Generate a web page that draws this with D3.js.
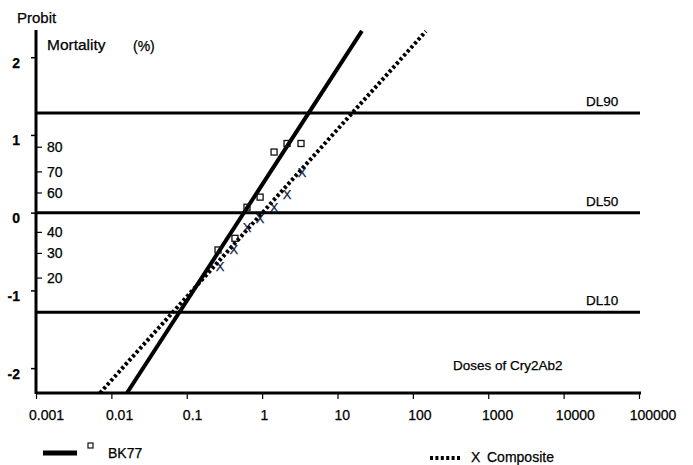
<!DOCTYPE html>
<html><head><meta charset="utf-8">
<script src="https://cdn.jsdelivr.net/npm/d3@7"></script>
<style>body{margin:0;background:#fff}svg{display:block}text{font-family:"Liberation Sans",Arial,sans-serif;fill:#000;stroke:#000;stroke-width:0.25px}</style>
</head><body><svg id="c" width="693" height="465"></svg>
<script>
// ---- data ----
const xTicks = [0.001, 0.01, 0.1, 1, 10, 100, 1000, 10000, 100000];
const xTickLabels = ["0.001", "0.01", "0.1", "1", "10", "100", "1000", "10000", "100000"];
const probitTicks = [-2, -1, 0, 1, 2];
const probitLabels = ["-2", "-1", "0", "1", "2"];
const mortalityTicks = [20, 30, 40, 60, 70, 80];
const refNames = ["DL90", "DL50", "DL10"];
const refPct = [90, 50, 10];
const bk77Dose = [0.26, 0.436, 0.63, 0.94, 1.44, 2.14, 3.28];
const bk77Probit = [-0.48, -0.33, 0.07, 0.20, 0.78, 0.89, 0.89];
const compDose = [0.276, 0.42, 0.63, 0.94, 1.44, 2.14, 3.38];
const compProbit = [-0.68, -0.47, -0.19, -0.07, 0.07, 0.24, 0.52];
const bk77FitDose = [0.0161, 21.1];
const bk77FitProbit = [-2.32, 2.338];
const compFitDose = [0.00706, 149];
const compFitProbit = [-2.32, 2.334];

// inverse normal CDF (Acklam) to place mortality ticks on the probit scale
function probit(p){
  const a=[-3.969683028665376e+01,2.209460984245205e+02,-2.759285104469687e+02,1.383577518672690e+02,-3.066479806614716e+01,2.506628277459239e+00];
  const b=[-5.447609879822406e+01,1.615858368580409e+02,-1.556989798598866e+02,6.680131188771972e+01,-1.328068155288572e+01];
  const c=[-7.784894002430293e-03,-3.223964580411365e-01,-2.400758277161838e+00,-2.549732539343734e+00,4.374664141464968e+00,2.938163982698783e+00];
  const d=[7.784695709041462e-03,3.224671290700398e-01,2.445134137142996e+00,3.754408661907416e+00];
  const pl=0.02425;let q,r;
  if(p<pl){q=Math.sqrt(-2*Math.log(p));return (((((c[0]*q+c[1])*q+c[2])*q+c[3])*q+c[4])*q+c[5])/((((d[0]*q+d[1])*q+d[2])*q+d[3])*q+1);}
  if(p>1-pl){q=Math.sqrt(-2*Math.log(1-p));return -(((((c[0]*q+c[1])*q+c[2])*q+c[3])*q+c[4])*q+c[5])/((((d[0]*q+d[1])*q+d[2])*q+d[3])*q+1);}
  q=p-0.5;r=q*q;return (((((a[0]*r+a[1])*r+a[2])*r+a[3])*r+a[4])*r+a[5])*q/(((((b[0]*r+b[1])*r+b[2])*r+b[3])*r+b[4])*r+1);
}

const svg = d3.select("#c");
const x = d3.scaleLog().domain([0.001, 100000]).range([36, 639]);
const y = d3.scaleLinear().domain([-2.32, 2.35]).range([393, 30]);

// reference lines
refPct.forEach((pc, i) => {
  const yy = y(probit(pc / 100));
  svg.append("line").attr("x1", x(0.001)).attr("x2", 640).attr("y1", yy).attr("y2", yy)
    .attr("stroke", "#000").attr("stroke-width", 3);
  svg.append("text").attr("x", 586).attr("y", yy - 7).attr("font-size", 13.5).text(refNames[i]);
});

// fitted lines
const line = d3.line().x(d => x(d[0])).y(d => y(d[1]));
svg.append("path").attr("d", line(d3.zip(bk77FitDose, bk77FitProbit)))
  .attr("fill", "none").attr("stroke", "#000").attr("stroke-width", 4);
svg.append("path").attr("d", line(d3.zip(compFitDose, compFitProbit)))
  .attr("fill", "none").attr("stroke", "#000").attr("stroke-width", 4).attr("stroke-dasharray", "3,2.4");

// axes
const xAxis = svg.append("g").attr("transform", `translate(0,393)`)
  .call(d3.axisBottom(x).tickValues(xTicks).tickSize(6).tickFormat((d, i) => xTickLabels[i]));
xAxis.select(".domain").attr("stroke-width", 3).attr("d", `M${x(0.001)},0H641`);
xAxis.selectAll(".tick line").attr("stroke-width", 1.2);
xAxis.selectAll(".tick text").attr("font-size", 14).attr("font-family", "Liberation Sans, Arial").attr("fill", "#000")
  .attr("y", 0).attr("dy", 0)
  .each(function(){ const w = this.getComputedTextLength(); d3.select(this).attr("x", 0.3*w - 0.5).attr("y", 27); });

const yAxis = svg.append("g").attr("transform", `translate(36,0)`)
  .call(d3.axisLeft(y).tickValues(probitTicks).tickSize(5).tickFormat((d, i) => probitLabels[i]));
yAxis.select(".domain").attr("stroke-width", 3).attr("d", `M0,30V394`);
yAxis.selectAll(".tick line").attr("stroke-width", 1.5);
yAxis.selectAll(".tick text").attr("font-size", 14).attr("font-weight", "bold").attr("font-family", "Liberation Sans, Arial")
  .attr("fill", "#000").attr("x", -16).attr("dy", 0).attr("y", 10);

// mortality ticks (inside)
mortalityTicks.forEach(m => {
  const yy = y(probit(m / 100));
  svg.append("line").attr("x1", 37).attr("x2", 42).attr("y1", yy).attr("y2", yy).attr("stroke", "#000").attr("stroke-width", 1.2);
  svg.append("text").attr("x", 47).attr("y", yy + 5).attr("font-size", 14).text(m);
});

// data points
const bk = d3.zip(bk77Dose, bk77Probit);
svg.selectAll(".sq").data(bk).enter().append("rect")
  .attr("x", d => x(d[0]) - 3).attr("y", d => y(d[1]) - 3).attr("width", 6).attr("height", 6)
  .attr("fill", "none").attr("stroke", "#111").attr("stroke-width", 1.3);
const cp = d3.zip(compDose, compProbit);
svg.selectAll(".xm").data(cp).enter().append("text")
  .attr("x", d => x(d[0])).attr("y", d => y(d[1]) + 5).attr("text-anchor", "middle")
  .attr("font-size", 13).style("fill", "#0d1a3a").style("stroke", "#0d1a3a").text("X");

// titles
svg.append("text").attr("x", 17).attr("y", 23).attr("font-size", 15).text("Probit");
svg.append("text").attr("x", 47).attr("y", 50).attr("font-size", 15.5).text("Mortality");
svg.append("text").attr("x", 133).attr("y", 51).attr("font-size", 14).text("(%)");
svg.append("text").attr("x", 453).attr("y", 370).attr("font-size", 13.5).text("Doses of Cry2Ab2");

// legend
svg.append("line").attr("x1", 43).attr("x2", 77).attr("y1", 453).attr("y2", 453).attr("stroke", "#000").attr("stroke-width", 5);
svg.append("rect").attr("x", 88).attr("y", 443).attr("width", 5).attr("height", 5).attr("fill", "none").attr("stroke", "#111").attr("stroke-width", 1.2);
svg.append("text").attr("x", 108).attr("y", 458).attr("font-size", 14).text("BK77");
svg.append("line").attr("x1", 430).attr("x2", 462).attr("y1", 458).attr("y2", 458).attr("stroke", "#000").attr("stroke-width", 4).attr("stroke-dasharray", "3,2.4");
svg.append("text").attr("x", 471).attr("y", 462).attr("font-size", 14).text("X");
svg.append("text").attr("x", 487).attr("y", 462).attr("font-size", 14).text("Composite");
</script></body></html>
